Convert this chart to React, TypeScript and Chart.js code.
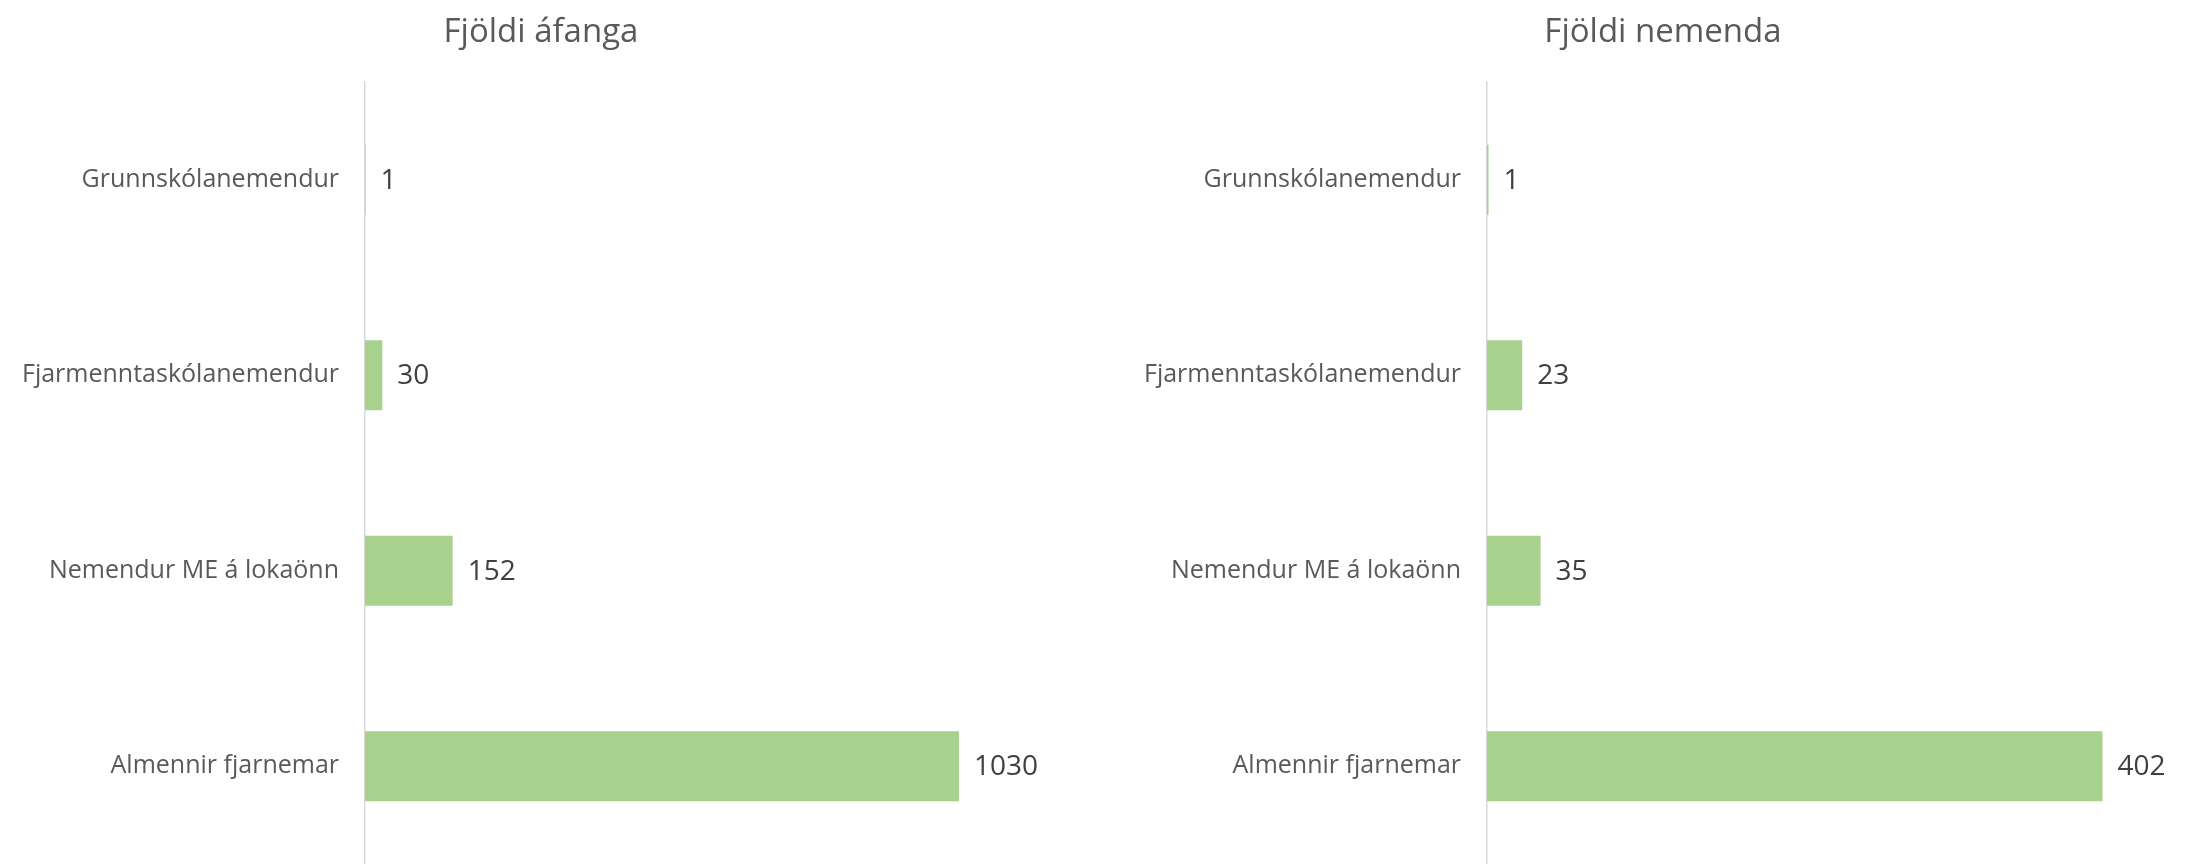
import React, { useEffect, useRef } from "react";
import { Chart, registerables } from "chart.js";

Chart.register(...registerables);

const categories = [
  "Grunnskólanemendur",
  "Fjarmenntaskólanemendur",
  "Nemendur ME á lokaönn",
  "Almennir fjarnemar",
];
const coursesValues = [1, 30, 152, 1030];
const studentsValues = [1, 23, 35, 402];
const coursesTitle = "Fjöldi áfanga";
const studentsTitle = "Fjöldi nemenda";

const FONT = "'Open Sans', 'Noto Sans', sans-serif";
const BAR_COLOR = "#A9D18E";

type PanelProps = {
  values: number[];
  title: string;
  max: number;
  width: number;
  axisX: number;
  padRight: number;
  titleX: number;
};

function Panel({ values, title, max, width, axisX, padRight, titleX }: PanelProps) {
  const ref = useRef<HTMLCanvasElement | null>(null);
  useEffect(() => {
    if (!ref.current) return;
    const extras = {
      id: "extras",
      afterDatasetsDraw(chart: any) {
        const ctx = chart.ctx;
        ctx.save();
        ctx.font = `28px ${FONT}`;
        ctx.fillStyle = "#404040";
        ctx.textAlign = "left";
        ctx.textBaseline = "middle";
        const meta = chart.getDatasetMeta(0);
        meta.data.forEach((bar: any, i: number) => {
          ctx.fillText(String(values[i]), bar.x + 15, bar.y + 1);
        });
        ctx.font = `33px ${FONT}`;
        ctx.fillStyle = "#595959";
        ctx.textAlign = "center";
        ctx.textBaseline = "alphabetic";
        ctx.fillText(title, titleX, 42);
        ctx.restore();
      },
    };
    const chart = new Chart(ref.current, {
      type: "bar",
      data: {
        labels: categories,
        datasets: [
          {
            data: values,
            backgroundColor: BAR_COLOR,
            borderWidth: 0,
            categoryPercentage: 1,
            barPercentage: 0.358,
          },
        ],
      },
      options: {
        indexAxis: "y",
        responsive: false,
        animation: false,
        layout: { padding: { top: 82, bottom: 0, left: 0, right: padRight } },
        plugins: {
          legend: { display: false },
          tooltip: { enabled: false },
          title: { display: false },
        },
        scales: {
          x: {
            display: false,
            min: 0,
            max: max,
          },
          y: {
            afterFit(scale: any) {
              scale.width = axisX;
              scale.paddingTop = 0;
              scale.paddingBottom = 0;
            },
            grid: { display: true, drawOnChartArea: false, drawTicks: false },
            border: { display: true, color: "#D9D9D9", width: 1.5 },
            ticks: {
              padding: 26,
              color: "#595959",
              font: { family: FONT, size: 25 },
            },
          },
        },
      },
      plugins: [extras],
    });
    return () => chart.destroy();
  }, []);
  return <canvas ref={ref} width={width} height={864} style={{ display: "block", width, height: 864 }} />;
}

export default function App() {
  return (
    <div
      style={{
        position: "absolute",
        left: 0,
        top: 0,
        width: 2185,
        height: 864,
        background: "#ffffff",
        display: "flex",
      }}
    >
      <Panel values={coursesValues} title={coursesTitle} max={1200} width={1090} axisX={365} padRight={33} titleX={541} />
      <Panel values={studentsValues} title={studentsTitle} max={450} width={1095} axisX={397} padRight={9} titleX={573} />
    </div>
  );
}
